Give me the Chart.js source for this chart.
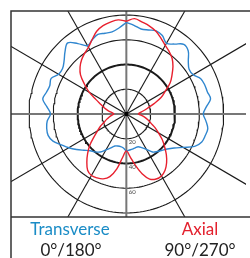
<!DOCTYPE html>
<html>
<head>
<meta charset="utf-8">
<script src="https://cdn.jsdelivr.net/npm/chart.js@4.4.0/dist/chart.umd.min.js"></script>
<style>
html,body{margin:0;padding:0;background:#fff;overflow:hidden;width:250px;height:258px}
#c{position:absolute;left:0;top:0}
.lbl{position:absolute;font-family:Lato,'Open Sans',sans-serif;font-size:17px;line-height:17px;white-space:nowrap;transform:translateX(-50%)}
</style>
</head>
<body>
<canvas id="c" width="250" height="258"></canvas>
<div class="lbl" style="left:70px;top:220px;color:#1a8cc6">Transverse</div>
<div class="lbl" style="left:71px;top:241px;color:#222">0°/180°</div>
<div class="lbl" style="left:200px;top:220px;color:#e3202d">Axial</div>
<div class="lbl" style="left:200px;top:241px;color:#222">90°/270°</div>
<script>
// angle in degrees, clockwise from the top of the plot
const angles = [0,5,10,15,20,25,30,35,40,45,50,55,60,65,70,75,80,85,90,95,100,105,110,115,120,125,130,135,140,145,150,155,160,165,170,175,
  180,185,190,195,200,205,210,215,220,225,230,235,240,245,250,255,260,265,270,275,280,285,290,295,300,305,310,315,320,325,330,335,340,345,350,355];

const transverse = [74,72,69.8,70.3,71.6,70,66,69,73.5,72,66.5,63,63.5,67.5,68.6,69,70.3,66,63.3,65.7,68,67.2,66,62,54,48,44,41.5,39.6,37.5,33,30,28.2,28.3,28.8,29.2,
  29.8,27.6,26.8,26.8,27.5,30.2,33.5,37.5,40,42,45.6,50,54.6,59,64.2,66.6,66.5,65.3,62.4,65.5,69.8,68,67,68.2,64.3,64,66.8,71.3,75,69.5,63.8,66.3,68.4,67.6,67.4,69.8];

const axial = [75,77.4,75.4,73.6,71.2,67.5,64,61.5,58.6,54.2,49,44,37,31.5,24,18,14,11,10,12.5,15.5,18.5,21.5,26,30.5,36,41,46.5,51.5,55.5,57.8,58,56,50,42,34.5,
  29.8,35.3,45,52.4,55.8,57,57.4,55.5,50.5,45,39.2,32.6,27.4,23.5,19.3,16.8,14.3,12.2,10.3,11.5,15,18.6,22,27.5,35.3,42,49.2,53.8,57.2,59.8,62.3,66.5,71.2,73.9,75.5,76.4];

const ringValues = [20,40,60,80];
const ringLabels = ['20','40','60'];
const spokeAngles = [0,30,60,90,120,150];

const rad = d => d*Math.PI/180;
function polar(vals){
  const pts = angles.map((a,i)=>({x: vals[i]*Math.sin(rad(a)), y: vals[i]*Math.cos(rad(a))}));
  pts.push(pts[0]);
  return pts;
}
function ring(R){
  const pts=[];
  for(let t=0;t<=360;t+=2) pts.push({x:R*Math.sin(rad(t)), y:R*Math.cos(rad(t))});
  return pts;
}
const datasets = [];
datasets.push({label:'Axial', data: polar(axial), borderColor:'#e8202e', borderWidth:1.4, showLine:true, pointRadius:0, tension:0.35, order:1});
datasets.push({label:'Transverse', data: polar(transverse), borderColor:'#2f86cf', borderWidth:1.4, showLine:true, pointRadius:0, tension:0.35, order:2});
ringValues.forEach(R=>{
  datasets.push({data: ring(R), borderColor:'#1a1a1a', borderWidth: R===40?2:1.1, showLine:true, pointRadius:0, tension:0, order:20});
});
spokeAngles.forEach(a=>{
  const L=300, main = (a%90===0);
  datasets.push({data:[{x:-L*Math.sin(rad(a)), y:-L*Math.cos(rad(a))},{x:L*Math.sin(rad(a)), y:L*Math.cos(rad(a))}],
    borderColor: main?'#777':'#1a1a1a', borderWidth: main?2:1.1, showLine:true, pointRadius:0, order: main?15:18});
});
datasets.push({data:[{x:0,y:0}], pointRadius:2.2, pointBackgroundColor:'#000', pointBorderWidth:0, showLine:false, order:0});

const framePlugin = {
  id:'frame',
  afterDatasetsDraw(chart){
    const ctx = chart.ctx, ca = chart.chartArea;
    const xs = chart.scales.x, ys = chart.scales.y;
    ctx.save();
    ctx.fillStyle = '#444';
    ctx.font = '6px Lato, sans-serif';
    ctx.textAlign = 'left';
    ctx.textBaseline = 'middle';
    ringLabels.forEach((t,i)=>{
      ctx.fillText(t, xs.getPixelForValue(0)+2.5, ys.getPixelForValue(-ringValues[i])+3.5);
    });
    ctx.strokeStyle = '#333';
    ctx.lineWidth = 1.5;
    ctx.beginPath();
    ctx.moveTo(ca.left, chart.height);
    ctx.lineTo(ca.left, ca.top);
    ctx.lineTo(chart.width, ca.top);
    ctx.moveTo(ca.left, ca.bottom);
    ctx.lineTo(chart.width, ca.bottom);
    ctx.stroke();
    ctx.restore();
  }
};

new Chart(document.getElementById('c'), {
  type:'scatter',
  data:{datasets},
  options:{
    responsive:false, animation:false, devicePixelRatio:1,
    layout:{padding:{left:11, top:11, right:0, bottom:41}},
    plugins:{legend:{display:false}, tooltip:{enabled:false}},
    scales:{
      x:{type:'linear', min:-94.83, max:98.38, display:false},
      y:{type:'linear', min:-83.27, max:83.27, display:false}
    }
  },
  plugins:[framePlugin]
});
</script>
</body>
</html>
